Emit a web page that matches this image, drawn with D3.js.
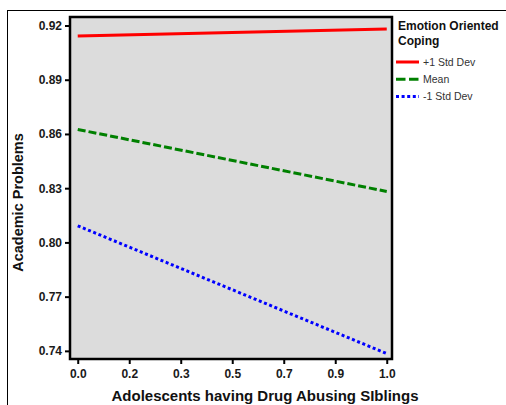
<!DOCTYPE html>
<html>
<head>
<meta charset="utf-8">
<script src="https://cdn.jsdelivr.net/npm/d3@7"></script>
<style>
  html, body { margin: 0; padding: 0; background: #fff; overflow: hidden; }
  svg { display: block; font-family: "Liberation Sans", Arial, sans-serif; }
</style>
</head>
<body>
<script>
// Predicted academic problems at the two ends of sibling drug abuse,
// for three levels of emotion-oriented coping.
const siblingValues = [0, 1];
const plusOneSD = [0.9142, 0.9181];
const meanLevel = [0.8625, 0.8282];
const minusOneSD = [0.8092, 0.7385];

const seriesNames = ["+1 Std Dev", "Mean", "-1 Std Dev"];
const seriesColors = ["#ff0000", "#008000", "#0000ff"];
const seriesDashes = [null, "8,3", "3,2.6"];

const xTickValues = [0, 1 / 6, 2 / 6, 0.5, 4 / 6, 5 / 6, 1];
const xTickLabels = ["0.0", "0.2", "0.3", "0.5", "0.7", "0.9", "1.0"];
const yTickValues = [0.74, 0.77, 0.80, 0.83, 0.86, 0.89, 0.92];
const yTickLabels = ["0.74", "0.77", "0.80", "0.83", "0.86", "0.89", "0.92"];

const legendTitle = ["Emotion Oriented", "Coping"];
const xTitle = "Adolescents having Drug Abusing SIblings";
const yTitle = "Academic Problems";

const W = 506, H = 405;
const plot = { left: 70, right: 392, top: 17, bottom: 359 };

const svg = d3.select("body").append("svg").attr("width", W).attr("height", H);

// outer frame of the figure
svg.append("rect")
  .attr("x", 7.5).attr("y", 10.5).attr("width", 700).attr("height", 700)
  .attr("fill", "#fff").attr("stroke", "#000").attr("stroke-width", 1);

const x = d3.scaleLinear().domain([-0.025, 1.017]).range([plot.left, plot.right]);
const y = d3.scaleLinear().domain([0.7355, 0.9247]).range([plot.bottom, plot.top]);

// plot background
svg.append("rect")
  .attr("x", plot.left).attr("y", plot.top)
  .attr("width", plot.right - plot.left).attr("height", plot.bottom - plot.top)
  .attr("fill", "#dcdcdc");

// axes
const yAxis = d3.axisLeft(y).tickValues(yTickValues)
  .tickFormat((d, i) => yTickLabels[i]).tickSize(5).tickPadding(3).tickSizeOuter(0);
const xAxis = d3.axisBottom(x).tickValues(xTickValues)
  .tickFormat((d, i) => xTickLabels[i]).tickSize(5).tickPadding(5).tickSizeOuter(0);

const gy = svg.append("g").attr("transform", `translate(${plot.left},0)`).call(yAxis);
const gx = svg.append("g").attr("transform", `translate(0,${plot.bottom})`).call(xAxis);
[gx, gy].forEach(g => {
  g.select(".domain").remove();
  g.selectAll(".tick line").attr("stroke", "#000").attr("stroke-width", 2);
  g.selectAll(".tick text")
    .attr("fill", "#1a1a1a")
    .style("font-size", "12px").style("font-weight", "bold")
    .style("font-family", "'Liberation Sans', Arial, sans-serif");
});

// series lines
const line = d3.line().x((d, i) => x(siblingValues[i])).y(d => y(d));
const allSeries = [plusOneSD, meanLevel, minusOneSD];
svg.append("g").selectAll("path").data(allSeries).join("path")
  .attr("d", d => line(d))
  .attr("fill", "none")
  .attr("stroke", (d, i) => seriesColors[i])
  .attr("stroke-width", 3)
  .attr("stroke-dasharray", (d, i) => seriesDashes[i]);

// plot border
svg.append("rect")
  .attr("x", plot.left).attr("y", plot.top)
  .attr("width", plot.right - plot.left).attr("height", plot.bottom - plot.top)
  .attr("fill", "none").attr("stroke", "#000").attr("stroke-width", 2.5);

// axis titles
svg.append("text")
  .attr("x", 265).attr("y", 401)
  .attr("text-anchor", "middle")
  .style("font-size", "15px").style("font-weight", "bold").attr("fill", "#111")
  .text(xTitle);

svg.append("text")
  .attr("transform", "translate(23,202.5) rotate(-90)")
  .attr("text-anchor", "middle")
  .style("font-size", "14.5px").style("font-weight", "bold").attr("fill", "#111")
  .text(yTitle);

// legend
const lg = svg.append("g");
lg.selectAll("text.title").data(legendTitle).join("text")
  .attr("class", "title")
  .attr("x", 398).attr("y", (d, i) => 30 + i * 15)
  .style("font-size", "12px").style("font-weight", "bold").attr("fill", "#111")
  .text(d => d);

const items = lg.selectAll("g.item").data(seriesNames).join("g")
  .attr("class", "item")
  .attr("transform", (d, i) => `translate(0,${62 + i * 17.3})`);
items.append("line")
  .attr("x1", 396).attr("x2", 419).attr("y1", 0).attr("y2", 0)
  .attr("stroke", (d, i) => seriesColors[i])
  .attr("stroke-width", 3)
  .attr("stroke-dasharray", (d, i) => seriesDashes[i] ? (i === 1 ? "9.5,3.5" : "3,2.6") : null);
items.append("text")
  .attr("x", 423).attr("y", 0).attr("dy", "0.35em")
  .style("font-size", "10.5px").attr("fill", "#333")
  .text(d => d);
</script>
</body>
</html>
